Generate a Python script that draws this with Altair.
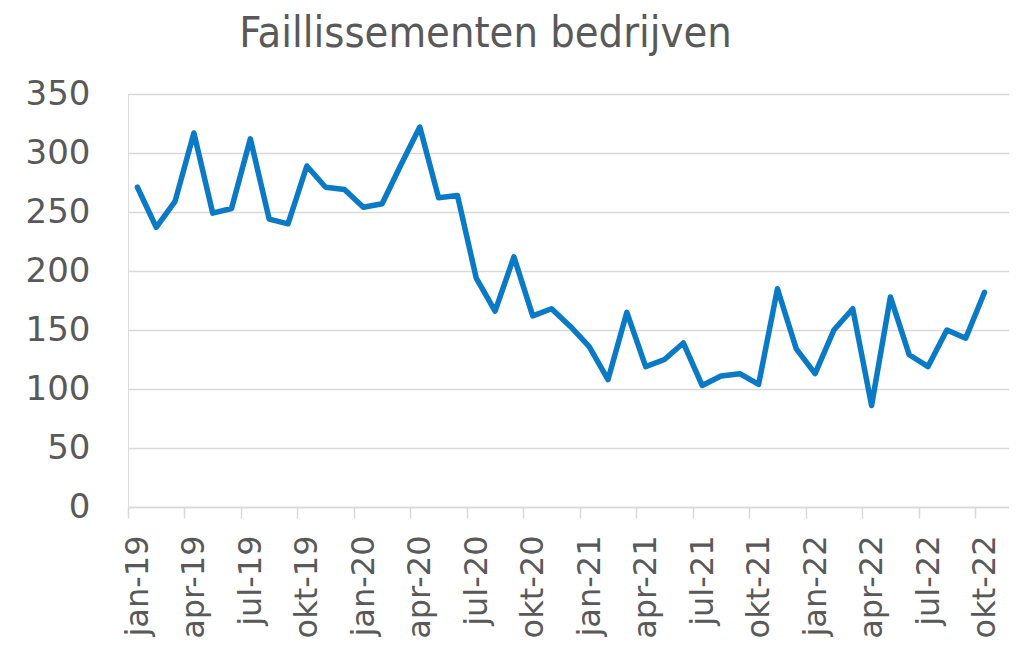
import json
import altair as alt
import pandas as pd

title_text = "Faillissementen bedrijven"
month_names = ["jan", "feb", "mrt", "apr", "mei", "jun", "jul", "aug", "sep", "okt", "nov", "dec"]
years = ["19", "20", "21", "22"]
months = [f"{m}-{y}" for y in years for m in month_names][:46]

values_2019 = [271, 237, 259, 317, 249, 253, 312, 244, 240, 289, 271, 269]
values_2020 = [254, 257, 290, 322, 262, 264, 194, 166, 212, 162, 168, 153]
values_2021 = [136, 108, 165, 119, 125, 139, 103, 111, 113, 104, 185, 134]
values_2022 = [113, 150, 168, 86, 178, 129, 119, 150, 143, 182]
values = values_2019 + values_2020 + values_2021 + values_2022

y_ticks = [0, 50, 100, 150, 200, 250, 300, 350]

df = pd.DataFrame({"idx": list(range(len(values))), "maand": months, "faillissementen": values})
tick_idx = list(range(0, len(months), 3))
label_expr = json.dumps(months) + "[datum.value]"

TEXT = "#595959"
GRID = "#d9d9d9"
FONT = "DejaVu Sans"
half = 881 / 46.8 / 2

chart = (
    alt.Chart(df)
    .mark_line(color="#0a7ac6", strokeWidth=5.5, strokeJoin="round", strokeCap="round")
    .encode(
        x=alt.X(
            "idx:Q",
            scale=alt.Scale(domain=[-0.5, 46.3], nice=False, zero=False),
            axis=alt.Axis(
                values=tick_idx,
                labelExpr=label_expr,
                title=None,
                grid=False,
                labelAngle=-90,
                labelAlign="right",
                labelBaseline="middle",
                tickOffset=-half,
                labelOffset=half,
                labelOverlap=False,
                labelFlush=False,
                labelBound=False,
                labelFontSize=32,
                labelFont=FONT,
                labelColor=TEXT,
                labelPadding=17,
                tickSize=11,
                tickColor=GRID,
                tickWidth=1.5,
                domainColor=GRID,
                domainWidth=1.5,
            ),
        ),
        y=alt.Y(
            "faillissementen:Q",
            scale=alt.Scale(domain=[0, 350], nice=False),
            axis=alt.Axis(
                values=y_ticks,
                title=None,
                domain=False,
                ticks=False,
                tickSize=0,
                gridColor=GRID,
                gridWidth=1.5,
                labelFontSize=34,
                labelFont=FONT,
                labelColor=TEXT,
                labelPadding=38,
            ),
        ),
    )
    .properties(
        width=881,
        height=413,
        autosize=alt.AutoSizeParams(type="none"),
        padding={"left": 120, "top": 86, "right": 0, "bottom": 136},
        title=alt.TitleParams(
            title_text,
            font="DejaVu Sans Condensed, DejaVu Sans",
            fontSize=43,
            fontWeight="normal",
            color=TEXT,
            anchor="middle",
            dx=-83,
            dy=43,
            baseline="alphabetic",
            offset=30,
        ),
    )
    .configure_view(stroke=None)
    .configure(background="white")
)

chart.save("out.html", embed_options={"renderer": "svg", "actions": False})
